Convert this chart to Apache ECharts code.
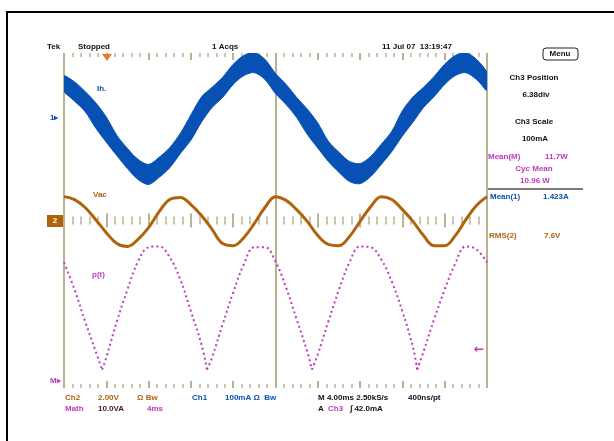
<!DOCTYPE html>
<html>
<head>
<meta charset="utf-8">
<script src="https://cdn.jsdelivr.net/npm/echarts@6/dist/echarts.min.js"></script>
<style>
  html, body { margin: 0; padding: 0; background: #fff; }
  #chart { width: 614px; height: 441px; }
</style>
</head>
<body>
<div id="chart"></div>
<script>
// time axis in screen divisions (10 div across)
const sampleDiv = [0, 0.25, 0.5, 0.75, 1, 1.25, 1.5, 1.75, 2, 2.25, 2.5, 2.75, 3, 3.25, 3.5, 3.75, 4, 4.25, 4.5, 4.75,
  5, 5.25, 5.5, 5.75, 6, 6.25, 6.5, 6.75, 7, 7.25, 7.5, 7.75, 8, 8.25, 8.5, 8.75, 9, 9.25, 9.5, 9.75, 10]

// Ch1 current (noisy band), upper and lower envelope in div
const ch1Top = [3.46, 3.31, 3.08, 2.81, 2.47, 2.03, 1.72, 1.46, 1.34, 1.51, 1.74, 2.08, 2.52, 2.95, 3.18, 3.42, 3.73, 3.94, 4.01, 3.85,
  3.51, 3.25, 2.94, 2.66, 2.33, 1.89, 1.63, 1.41, 1.36, 1.53, 1.82, 2.13, 2.62, 2.95, 3.18, 3.44, 3.73, 3.94, 4.01, 3.85, 3.54]
const ch1Bottom = [3.08, 2.85, 2.60, 2.21, 1.87, 1.55, 1.24, 0.98, 0.86, 1.03, 1.26, 1.60, 1.92, 2.35, 2.70, 2.94, 3.25, 3.46, 3.53, 3.37,
  3.03, 2.77, 2.46, 2.06, 1.73, 1.41, 1.15, 0.93, 0.88, 1.05, 1.34, 1.65, 2.02, 2.35, 2.70, 2.96, 3.25, 3.46, 3.53, 3.37, 3.10]

// Ch2 voltage in div
const ch2Values = [0.57, 0.50, 0.31, 0.02, -0.29, -0.55, -0.62, -0.45, -0.17, 0.21, 0.50, 0.55, 0.38, 0.12, -0.21, -0.55, -0.60, -0.41, -0.07, 0.31,
  0.57, 0.48, 0.26, -0.02, -0.36, -0.57, -0.60, -0.38, -0.02, 0.33, 0.57, 0.50, 0.26, -0.02, -0.36, -0.60, -0.60, -0.36, 0.02, 0.36, 0.57]

// Math (power) trace, with the sharp minima sampled
const mathDiv = [0, 0.25, 0.5, 0.75, 0.9, 1, 1.25, 1.5, 1.75, 2, 2.25, 2.5, 2.75, 3, 3.25, 3.38, 3.5, 3.75, 4, 4.25, 4.5, 4.75,
  5, 5.25, 5.5, 5.75, 5.86, 6, 6.25, 6.5, 6.75, 7, 7.25, 7.5, 7.75, 8, 8.25, 8.35, 8.5, 8.75, 9, 9.25, 9.5, 9.75, 10]
const mathValues = [-1.00, -1.65, -2.41, -3.13, -3.56, -3.27, -2.41, -1.65, -0.98, -0.64, -0.62, -0.88, -1.41, -2.17, -2.96, -3.56, -3.27, -2.48, -1.72, -1.05, -0.64, -0.64,
  -0.98, -1.60, -2.36, -3.13, -3.56, -3.20, -2.41, -1.65, -1.00, -0.62, -0.64, -0.93, -1.46, -2.17, -3.03, -3.56, -3.13, -2.36, -1.65, -1.03, -0.62, -0.69, -1.00]

const topLabels = ['Tek', 'Stopped', '1 Acqs', '11 Jul 07  13:19:47']
const sideLabels = ['Ch3 Position', '6.38div', 'Ch3 Scale', '100mA']

const BLUE = '#0750b4'
const BROWN = '#b0620c'
const MAGENTA = '#c038c0'
const GRID = '#b9b290'
const FONT = 'bold 8px "Liberation Sans", Arial, sans-serif'

const txt = (x, y, s, fill, align, font) => ({
  type: 'text', silent: true, z: 10,
  style: { x, y, text: s, fill: fill || '#111', font: font || FONT, textAlign: align || 'left', textVerticalAlign: 'middle' }
})

const tickAxis = (extra) => Object.assign({
  type: 'value', min: 0, max: 10, interval: 1,
  axisLabel: { show: false },
  splitLine: { show: false },
  axisLine: { show: false },
  axisTick: { show: true, inside: true, length: 7, lineStyle: { color: GRID, width: 2 } },
  minorTick: { show: true, splitNumber: 5, length: 4, lineStyle: { color: GRID, width: 1.5 } }
}, extra)

// split math trace at its minima so the dips stay sharp
const mathSegments = []
let start = 0
mathValues.forEach((v, i) => {
  if (i > 0 && (v <= -3.5 || i === mathValues.length - 1)) {
    mathSegments.push(mathDiv.slice(start, i + 1).map((t, j) => [t, mathValues[start + j]]))
    start = i
  }
})

const series = [
  {
    name: 'Ch1', type: 'custom', z: 2, clip: true,
    data: [[0, 0]],
    renderItem: (params, api) => {
      const upper = sampleDiv.map((t, i) => api.coord([t, ch1Top[i]]))
      const lower = sampleDiv.map((t, i) => api.coord([t, ch1Bottom[i]])).reverse()
      return {
        type: 'group',
        children: [
          { type: 'polygon', shape: { points: upper.concat(lower), smooth: 0.3 }, style: { fill: BLUE } },
          { type: 'polyline', shape: { points: upper, smooth: 0.3 }, style: { stroke: BLUE, lineWidth: 1, fill: null } },
          { type: 'polyline', shape: { points: lower, smooth: 0.3 }, style: { stroke: BLUE, lineWidth: 1, fill: null } }
        ]
      }
    }
  },
  {
    name: 'Ch2', type: 'line', smooth: 0.4, symbol: 'none',
    lineStyle: { width: 3, color: BROWN },
    data: sampleDiv.map((t, i) => [t, ch2Values[i]]), z: 3
  }
]
mathSegments.forEach((seg) => {
  series.push({
    name: 'Math', type: 'line', smooth: 0.4, symbol: 'none',
    lineStyle: { width: 2, color: MAGENTA, type: [2, 3] },
    data: seg, z: 3
  })
})

const chart = echarts.init(document.getElementById('chart'), null, { renderer: 'canvas' })

chart.setOption({
  animation: false,
  backgroundColor: '#fff',
  grid: { left: 64, top: 53, width: 423, height: 335, containLabel: false },
  xAxis: [
    tickAxis({ position: 'bottom', axisLine: { show: false, onZero: false } }),
    tickAxis({ position: 'top', axisLine: { show: false, onZero: false } }),
    tickAxis({ position: 'bottom', axisLine: { show: false, onZero: true, onZeroAxisIndex: 0 } }),
    tickAxis({
      position: 'bottom', axisLine: { show: false, onZero: true, onZeroAxisIndex: 0 },
      axisTick: { show: true, inside: false, length: 7, lineStyle: { color: GRID, width: 2 } },
      minorTick: { show: true, splitNumber: 5, length: 4, lineStyle: { color: GRID, width: 1.5 } }
    }),
    {
      type: 'value', min: 0, max: 10, interval: 5, position: 'bottom',
      axisLine: { show: false, onZero: false }, axisTick: { show: false }, axisLabel: { show: false },
      splitLine: { show: true, lineStyle: { color: GRID, width: 2 } }
    }
  ],
  yAxis: {
    type: 'value', min: -4, max: 4,
    axisLine: { show: false }, axisTick: { show: false }, axisLabel: { show: false }, splitLine: { show: false }
  },
  series,
  graphic: [
    { type: 'rect', silent: true, z: 0, shape: { x: 7, y: 12, width: 700, height: 500 },
      style: { fill: 'none', stroke: '#000', lineWidth: 2 } },
    txt(47, 47, topLabels[0]),
    txt(78, 47, topLabels[1]),
    txt(212, 47, topLabels[2]),
    txt(382, 47, topLabels[3]),
    { type: 'polygon', silent: true, z: 10, shape: { points: [[102, 54], [112, 54], [107, 61]] }, style: { fill: '#f07828' } },

    // trace labels
    txt(97, 89, 'Ih.', BLUE),
    txt(93, 195, 'Vac', BROWN),
    txt(92, 275, 'p(t)', MAGENTA),

    // left markers
    txt(50, 118, '1▸', BLUE),
    { type: 'rect', silent: true, z: 10, shape: { x: 47, y: 215, width: 16, height: 12 }, style: { fill: BROWN } },
    txt(55, 221, '2', '#fff', 'center'),
    txt(50, 381, 'M▸', MAGENTA),
    txt(474, 350, '←', MAGENTA, 'left', 'bold 12px "DejaVu Sans", sans-serif'),

    // right panel
    { type: 'rect', silent: true, z: 10, shape: { x: 543, y: 48, width: 35, height: 12, r: 3 },
      style: { fill: 'none', stroke: '#222', lineWidth: 1 } },
    txt(560, 54, 'Menu', '#111', 'center'),
    txt(534, 78, sideLabels[0], '#111', 'center'),
    txt(536, 95, sideLabels[1], '#111', 'center'),
    txt(534, 122, sideLabels[2], '#111', 'center'),
    txt(535, 139, sideLabels[3], '#111', 'center'),
    txt(488, 157, 'Mean(M)', MAGENTA),
    txt(545, 157, '11.7W', MAGENTA),
    txt(534, 169, 'Cyc Mean', MAGENTA, 'center'),
    txt(535, 181, '10.96 W', MAGENTA, 'center'),
    { type: 'line', silent: true, z: 10, shape: { x1: 488, y1: 189, x2: 583, y2: 189 }, style: { stroke: '#7a7a7a', lineWidth: 2 } },
    txt(490, 197, 'Mean(1)', BLUE),
    txt(543, 197, '1.423A', BLUE),
    txt(489, 236, 'RMS(2)', BROWN),
    txt(544, 236, '7.6V', BROWN),

    // bottom readout
    txt(65, 398, 'Ch2', BROWN),
    txt(98, 398, '2.00V', BROWN),
    txt(137, 398, 'Ω Bw', BROWN),
    txt(192, 398, 'Ch1', BLUE),
    txt(225, 398, '100mA Ω  Bw', BLUE),
    txt(318, 398, 'M 4.00ms 2.50kS/s'),
    txt(408, 398, '400ns/pt'),
    txt(65, 409, 'Math', MAGENTA),
    txt(98, 409, '10.0VA', '#3a1a30'),
    txt(147, 409, '4ms', MAGENTA),
    txt(318, 409, 'A'),
    txt(328, 409, 'Ch3', MAGENTA),
    txt(350, 409, '∫ 42.0mA')
  ]
})
</script>
</body>
</html>
